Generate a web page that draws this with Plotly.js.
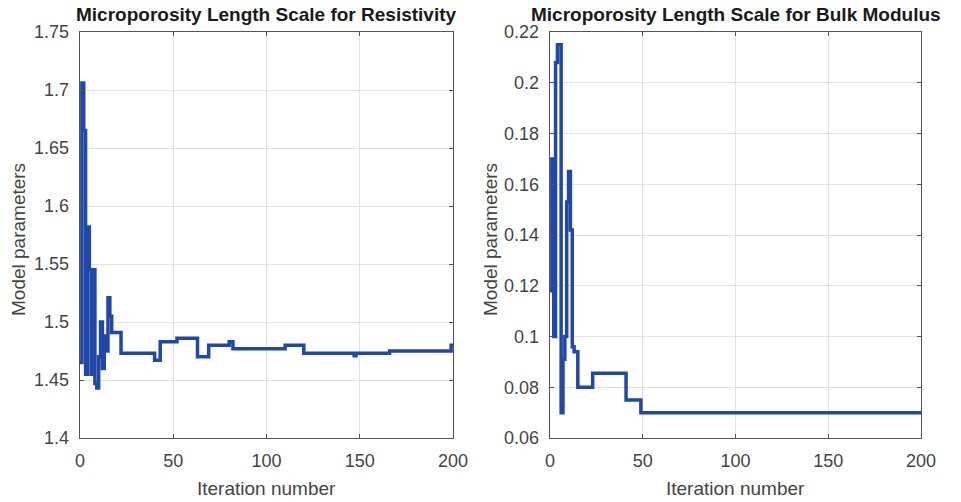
<!DOCTYPE html>
<html>
<head>
<meta charset="utf-8">
<script src="https://cdn.plot.ly/plotly-3.0.1.min.js"></script>
<style>
  html, body { margin: 0; padding: 0; background: #ffffff; }
  #chart { width: 961px; height: 502px; }
</style>
</head>
<body>
<div id="chart"></div>
<script>
// Left panel: Microporosity length scale for resistivity (value holds until next listed iteration)
const resIter = [0,1,2,3,4,5,6,7,8,9,10,11,12,13,14,15,16,17,22,40,43,52,63,69,80,82,110,120,147,148,166,199,200];
const resVal  = [1.465,1.706,1.665,1.455,1.582,1.545,1.455,1.545,1.447,1.443,1.470,1.500,1.460,1.488,1.475,1.521,1.505,1.491,1.473,1.467,1.483,1.486,1.470,1.480,1.483,1.477,1.480,1.473,1.471,1.473,1.475,1.480,1.480];

// Right panel: Microporosity length scale for bulk modulus
const bulkIter = [0,1,2,3,4,6,7,8,9,10,11,12,13,15,23,41,49,200];
const bulkVal  = [0.118,0.170,0.100,0.208,0.215,0.070,0.091,0.100,0.153,0.165,0.142,0.096,0.094,0.080,0.0855,0.075,0.070,0.070];

const xTicks = [0,50,100,150,200];
const resTicks = [1.4,1.45,1.5,1.55,1.6,1.65,1.7,1.75];
const resTickText = ['1.4','1.45','1.5','1.55','1.6','1.65','1.7','1.75'];
const bulkTicks = [0.06,0.08,0.1,0.12,0.14,0.16,0.18,0.2,0.22];
const bulkTickText = ['0.06','0.08','0.1','0.12','0.14','0.16','0.18','0.2','0.22'];

const titles = ['Microporosity Length Scale for Resistivity','Microporosity Length Scale for Bulk Modulus'];
const xTitle = 'Iteration number';
const yTitle = 'Model parameters';

const W = 961, H = 502;
const lineColor = '#2148a8';
const font = 'Liberation Sans, Arial, sans-serif';

const traces = [
  {x: resIter, y: resVal, type: 'scatter', mode: 'lines', xaxis: 'x', yaxis: 'y',
   line: {color: lineColor, width: 3.5, shape: 'hv'}, hoverinfo: 'x+y'},
  {x: bulkIter, y: bulkVal, type: 'scatter', mode: 'lines', xaxis: 'x2', yaxis: 'y2',
   line: {color: lineColor, width: 3.5, shape: 'hv'}, hoverinfo: 'x+y'}
];

const L1 = 80, R1 = 453, L2 = 550, R2 = 921, T = 32, B = 438;
const yDom = [1 - B / H, 1 - T / H];

function xa(dom) {
  return {
    domain: dom, range: [0, 200], tickvals: xTicks, ticktext: xTicks.map(String),
    showline: true, mirror: 'ticks', linecolor: '#555', linewidth: 1.3,
    ticks: 'inside', ticklen: 4, tickcolor: '#555',
    showgrid: true, gridcolor: '#e2e2e2', gridwidth: 1, zeroline: false,
    tickfont: {family: font, size: 18, color: '#444'}, automargin: false,
    ticklabelstandoff: 6, fixedrange: true
  };
}
function ya(dom, rng, tv, tt, anchor) {
  return {
    domain: dom, range: rng, tickvals: tv, ticktext: tt, anchor: anchor,
    showline: true, mirror: 'ticks', linecolor: '#555', linewidth: 1.3,
    ticks: 'inside', ticklen: 4, tickcolor: '#555',
    showgrid: true, gridcolor: '#e2e2e2', gridwidth: 1, zeroline: false,
    tickfont: {family: font, size: 18, color: '#444'}, automargin: false,
    ticklabelstandoff: 6, fixedrange: true
  };
}

const layout = {
  width: W, height: H,
  margin: {l: 0, r: 0, t: 0, b: 0},
  paper_bgcolor: '#ffffff', plot_bgcolor: '#ffffff',
  showlegend: false,
  xaxis: Object.assign(xa([L1 / W, R1 / W]), {anchor: 'y'}),
  yaxis: ya(yDom, [1.4, 1.75], resTicks, resTickText, 'x'),
  xaxis2: Object.assign(xa([L2 / W, R2 / W]), {anchor: 'y2'}),
  yaxis2: ya(yDom, [0.06, 0.22], bulkTicks, bulkTickText, 'x2'),
  annotations: [
    {text: '<b>' + titles[0] + '</b>', xref: 'paper', yref: 'paper', x: (L1 + R1) / 2 / W, y: 1 - 15 / H,
     xanchor: 'center', yanchor: 'middle', showarrow: false, font: {family: font, size: 19, color: '#1a1a1a'}},
    {text: '<b>' + titles[1] + '</b>', xref: 'paper', yref: 'paper', x: (L2 + R2) / 2 / W, y: 1 - 15 / H,
     xanchor: 'center', yanchor: 'middle', showarrow: false, font: {family: font, size: 19, color: '#1a1a1a'}},
    {text: xTitle, xref: 'paper', yref: 'paper', x: (L1 + R1) / 2 / W, y: 1 - 488 / H,
     xanchor: 'center', yanchor: 'middle', showarrow: false, font: {family: font, size: 19, color: '#444'}},
    {text: xTitle, xref: 'paper', yref: 'paper', x: (L2 + R2) / 2 / W, y: 1 - 488 / H,
     xanchor: 'center', yanchor: 'middle', showarrow: false, font: {family: font, size: 19, color: '#444'}},
    {text: yTitle, xref: 'paper', yref: 'paper', x: 18 / W, y: 1 - 240 / H, textangle: -90,
     xanchor: 'center', yanchor: 'middle', showarrow: false, font: {family: font, size: 19, color: '#444'}},
    {text: yTitle, xref: 'paper', yref: 'paper', x: 490 / W, y: 1 - 240 / H, textangle: -90,
     xanchor: 'center', yanchor: 'middle', showarrow: false, font: {family: font, size: 19, color: '#444'}}
  ]
};

Plotly.newPlot('chart', traces, layout, {displayModeBar: false, staticPlot: true});
</script>
</body>
</html>
